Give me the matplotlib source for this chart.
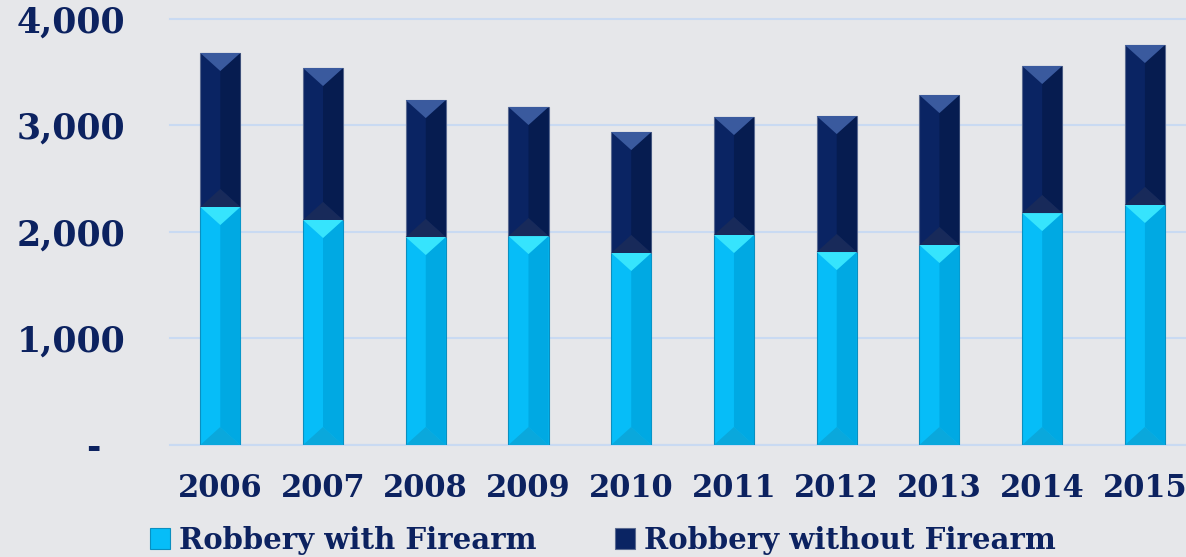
import matplotlib.pyplot as plt
from matplotlib.patches import Polygon, Patch
from matplotlib.legend_handler import HandlerPatch

# robbery counts per year
years = ['2006', '2007', '2008', '2009', '2010', '2011', '2012', '2013', '2014', '2015']
with_firearm = [2235, 2113, 1953, 1962, 1803, 1972, 1812, 1878, 2178, 2254]
totals = [3681, 3540, 3239, 3174, 2939, 3080, 3089, 3286, 3559, 3756]
without_firearm = [t - w for t, w in zip(totals, with_firearm)]

ytick_vals = [0, 1000, 2000, 3000, 4000]
ytick_labels = ['-  ', '1,000', '2,000', '3,000', '4,000']

navy_text = '#0c2260'
light = '#06bdf8'
dark = '#0a2463'
bg = '#e6e7ea'

plt.rcParams['font.family'] = ['DejaVu Serif']
plt.rcParams['font.weight'] = 'bold'

fig = plt.figure(figsize=(11.86, 5.57), dpi=100, facecolor=bg)
ax = fig.add_axes([0.1433, 0.2011, 0.8567, 0.7648], facecolor=bg)

x = list(range(len(years)))
width = 0.39

ax.bar(x, with_firearm, width, color=light, edgecolor='#0a8fc0', linewidth=0.8, zorder=3)
ax.bar(x, without_firearm, width, bottom=with_firearm, color=dark, edgecolor='#5a6a90',
       linewidth=0.8, zorder=3)

ax.set_xlim(-0.49, 9.4)
ax.set_ylim(0, 4000)

# bevel shading: px -> data units
fig.canvas.draw()
px_per_unit_y = ax.transData.transform((0, 1000))[1] - ax.transData.transform((0, 0))[1]
px_per_unit_x = ax.transData.transform((1, 0))[0] - ax.transData.transform((0, 0))[0]
half_px = width / 2 * px_per_unit_x * 0.9
depth = half_px / px_per_unit_y * 1000


def bevel(xc, y0, y1, top_col, right_col, bottom_col):
    l, r = xc - width / 2, xc + width / 2
    d = min(depth, (y1 - y0) / 2)
    # right half darker
    ax.add_patch(Polygon([(xc, y0 + d), (r, y0), (r, y1), (xc, y1 - d)],
                         closed=True, facecolor=right_col, edgecolor='none', zorder=4))
    # top highlight
    ax.add_patch(Polygon([(l, y1), (r, y1), (xc, y1 - d)],
                         closed=True, facecolor=top_col, edgecolor='none', zorder=4))
    # bottom shade
    ax.add_patch(Polygon([(l, y0), (r, y0), (xc, y0 + d)],
                         closed=True, facecolor=bottom_col, edgecolor='none', zorder=4))


for i in x:
    bevel(i, 0, with_firearm[i], '#36e4fd', '#00a9e3', '#0aa8dc')
    bevel(i, with_firearm[i], totals[i], '#3a5a9e', '#061c50', '#182a5a')

ax.set_yticks(ytick_vals)
ax.set_yticklabels(ytick_labels)
ax.set_xticks(x)
ax.set_xticklabels(years)
ax.tick_params(axis='y', length=0, pad=32, labelsize=25, labelcolor=navy_text)
ax.tick_params(axis='x', length=0, pad=20, labelsize=22, labelcolor=navy_text)

ax.grid(axis='y', color='#c9daf2', linewidth=1.5, zorder=0)
for sp in ax.spines.values():
    sp.set_visible(False)
ax.axhline(0, color='#c9daf2', linewidth=1.5, zorder=2)
for line in ax.get_ygridlines():
    line.set_clip_on(False)


class SquareHandler(HandlerPatch):
    def create_artists(self, legend, orig_handle, xdescent, ydescent, width, height, fontsize, trans):
        s = height * 1.0
        p = plt.Rectangle((width - s, (height - s) / 2 - ydescent), s, s,
                          facecolor=orig_handle.get_facecolor(),
                          edgecolor=orig_handle.get_edgecolor(), linewidth=0.8, transform=trans)
        return [p]


handles = [Patch(facecolor=light, edgecolor='#0a8fc0'), Patch(facecolor=dark, edgecolor='#5a6a90')]
fig.legend(handles, ['Robbery with Firearm', 'Robbery without Firearm'],
           handler_map={Patch: SquareHandler()},
           loc='center', bbox_to_anchor=(0.507, 0.03), ncol=2, frameon=False,
           fontsize=21, labelcolor=navy_text, handlelength=0.8, handletextpad=0.3,
           columnspacing=2.6)

fig.savefig('out.png', dpi=100, facecolor=bg)
